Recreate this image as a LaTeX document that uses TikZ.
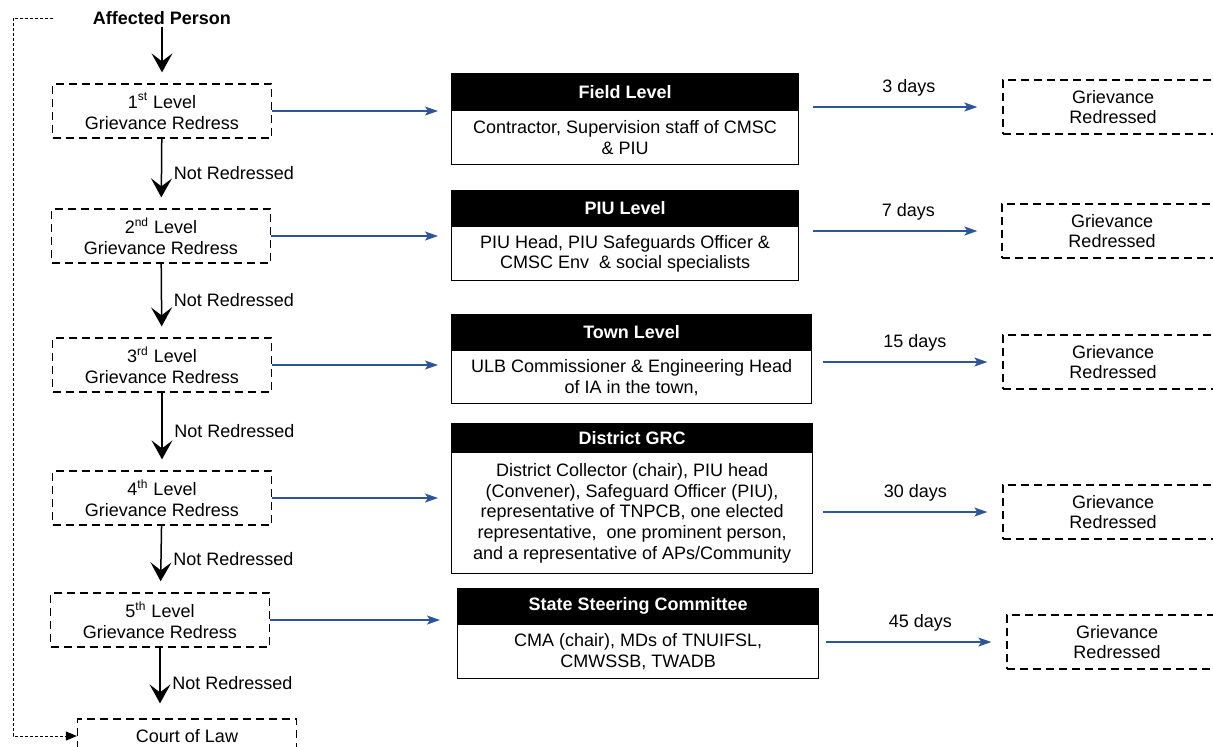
\documentclass[tikz,border=0pt]{standalone}
\usepackage{fontspec}
\setmainfont{Liberation Sans}
\usepackage{tikz}
\usetikzlibrary{arrows.meta,positioning,calc}
\definecolor{arrowblue}{RGB}{47,85,151}

\begin{document}
\begin{tikzpicture}[x=0.5pt, y=-0.5pt, every node/.style={font=\fontsize{9}{10.4}\selectfont},
  lvlbox/.style={draw, dash pattern=on 4pt off 2.5pt, line width=0.65pt, minimum width=109.5pt, minimum height=27pt, align=center, inner sep=0pt},
  donebox/.style={lvlbox, minimum width=110pt},
  headbox/.style={draw, fill=black, text=white, line width=0.6pt, inner sep=0pt, anchor=north west, font=\fontsize{9}{10.4}\selectfont\bfseries},
  bodybox/.style={draw, line width=0.6pt, inner sep=0pt, anchor=north, align=center},
  flowarrow/.style={-{Stealth[length=9.5pt, width=10.5pt, inset=4pt]}, line width=0.75pt, shorten >=5.5pt},
  bluearrow/.style={-{Stealth[length=6.5pt, width=4.5pt, inset=1.5pt]}, draw=arrowblue, line width=0.6pt},
  looparrow/.style={-{Triangle[length=5.5pt, width=4.5pt]}, dash pattern=on 1.5pt off 1pt, line width=0.5pt},
  nrlabel/.style={right, xshift=2.5pt},
  dayslabel/.style={above, pos=0.54, yshift=2pt}]
\useasboundingbox (0,0) rectangle (1213,746);
\clip (0,0) rectangle (1213,746);

% left column
\node[inner sep=1pt, font=\fontsize{9}{10.4}\selectfont\bfseries] (person) at (162,18) {Affected Person};
\node[lvlbox] (lvl1) at (162,111) {1\textsuperscript{st} Level\\Grievance Redress};
\node[lvlbox] (lvl2) at (161,236) {2\textsuperscript{nd} Level\\Grievance Redress};
\node[lvlbox] (lvl3) at (162,365) {3\textsuperscript{rd} Level\\Grievance Redress};
\node[lvlbox] (lvl4) at (162,498) {4\textsuperscript{th} Level\\Grievance Redress};
\node[lvlbox] (lvl5) at (160,620) {5\textsuperscript{th} Level\\Grievance Redress};
\node[lvlbox, minimum height=17pt] (court) at (187,736) {Court of Law};

% committees
\node[headbox, minimum width=173.5pt, minimum height=18pt] (fieldhead) at (451,73) {Field Level};
\node[bodybox, minimum width=173.5pt, minimum height=27pt] (fieldbody) at (fieldhead.south) {Contractor, Supervision staff of CMSC\\\& PIU};
\node[headbox, minimum width=173.5pt, minimum height=17.5pt] (piuhead) at (451,190) {PIU Level};
\node[bodybox, minimum width=173.5pt, minimum height=27pt] (piubody) at (piuhead.south) {PIU Head, PIU Safeguards Officer \&\\CMSC Env\ \ \& social specialists};
\node[headbox, minimum width=180pt, minimum height=17.5pt] (townhead) at (451,314) {Town Level};
\node[bodybox, minimum width=180pt, minimum height=26.5pt] (townbody) at (townhead.south) {ULB Commissioner \& Engineering Head\\of IA in the town,};
\node[headbox, minimum width=180.5pt, minimum height=14pt] (grchead) at (451,423) {District GRC};
\node[bodybox, minimum width=180.5pt, minimum height=60.5pt] (grcbody) at (grchead.south) {District Collector (chair), PIU head\\(Convener), Safeguard Officer (PIU),\\representative of TNPCB, one elected\\representative,\ \ one prominent person,\\and a representative of APs/Community};
\node[headbox, minimum width=180.5pt, minimum height=17.5pt] (ssshead) at (457,588) {State Steering Committee};
\node[bodybox, minimum width=180.5pt, minimum height=27pt] (sssbody) at (ssshead.south) {CMA (chair), MDs of TNUIFSL,\\CMWSSB, TWADB};

% outcomes
\node[donebox] (done1) at (1113,107) {Grievance\\Redressed};
\node[donebox] (done2) at (1112,231) {Grievance\\Redressed};
\node[donebox] (done3) at (1113,362) {Grievance\\Redressed};
\node[donebox] (done4) at (1113,512) {Grievance\\Redressed};
\node[donebox] (done5) at (1117,642) {Grievance\\Redressed};

% escalation
\draw[flowarrow] (person) -- (lvl1);
\draw[flowarrow] (lvl1) -- node[nrlabel] {Not Redressed} (lvl2);
\draw[flowarrow] (lvl2) -- node[nrlabel] {Not Redressed} (lvl3);
\draw[flowarrow] (lvl3) -- node[nrlabel] {Not Redressed} (lvl4);
\draw[flowarrow] (lvl4) -- node[nrlabel] {Not Redressed} (lvl5);
\draw[flowarrow, shorten >=7.5pt] (lvl5) -- node[nrlabel] {Not Redressed} (lvl5.south |- court.north);

\coordinate (loopstart) at (53,18);
\coordinate (loopcorner) at (13,18);
\draw[looparrow] (loopstart) -- (loopcorner) |- (court.west);

% to committees
\draw[bluearrow, shorten >=6.5pt] (lvl1) -- (lvl1 -| fieldhead.west);
\draw[bluearrow, shorten >=6.5pt] (lvl2) -- (lvl2 -| piuhead.west);
\draw[bluearrow, shorten >=6.5pt] (lvl3) -- (lvl3 -| townhead.west);
\draw[bluearrow, shorten >=6.5pt] (lvl4) -- (lvl4 -| grchead.west);
\draw[bluearrow, shorten >=8.5pt] (lvl5) -- (lvl5 -| ssshead.west);

% time limits
\draw[bluearrow, shorten <=7pt, shorten >=12.5pt] (fieldbody.east |- done1.west) -- node[dayslabel, text=black] {3 days} (done1.west);
\draw[bluearrow, shorten <=7pt, shorten >=12pt] (piubody.east |- done2.west) -- node[dayslabel, text=black] {7 days} (done2.west);
\draw[bluearrow, shorten <=5.5pt, shorten >=7.5pt] (townbody.east |- done3.west) -- node[dayslabel, text=black] {15 days} (done3.west);
\draw[bluearrow, shorten <=5pt, shorten >=7.5pt] (grcbody.east |- done4.west) -- node[dayslabel, text=black] {30 days} (done4.west);
\draw[bluearrow, shorten <=3.5pt, shorten >=7.5pt] (sssbody.east |- done5.west) -- node[dayslabel, text=black] {45 days} (done5.west);
\end{tikzpicture}
\end{document}
